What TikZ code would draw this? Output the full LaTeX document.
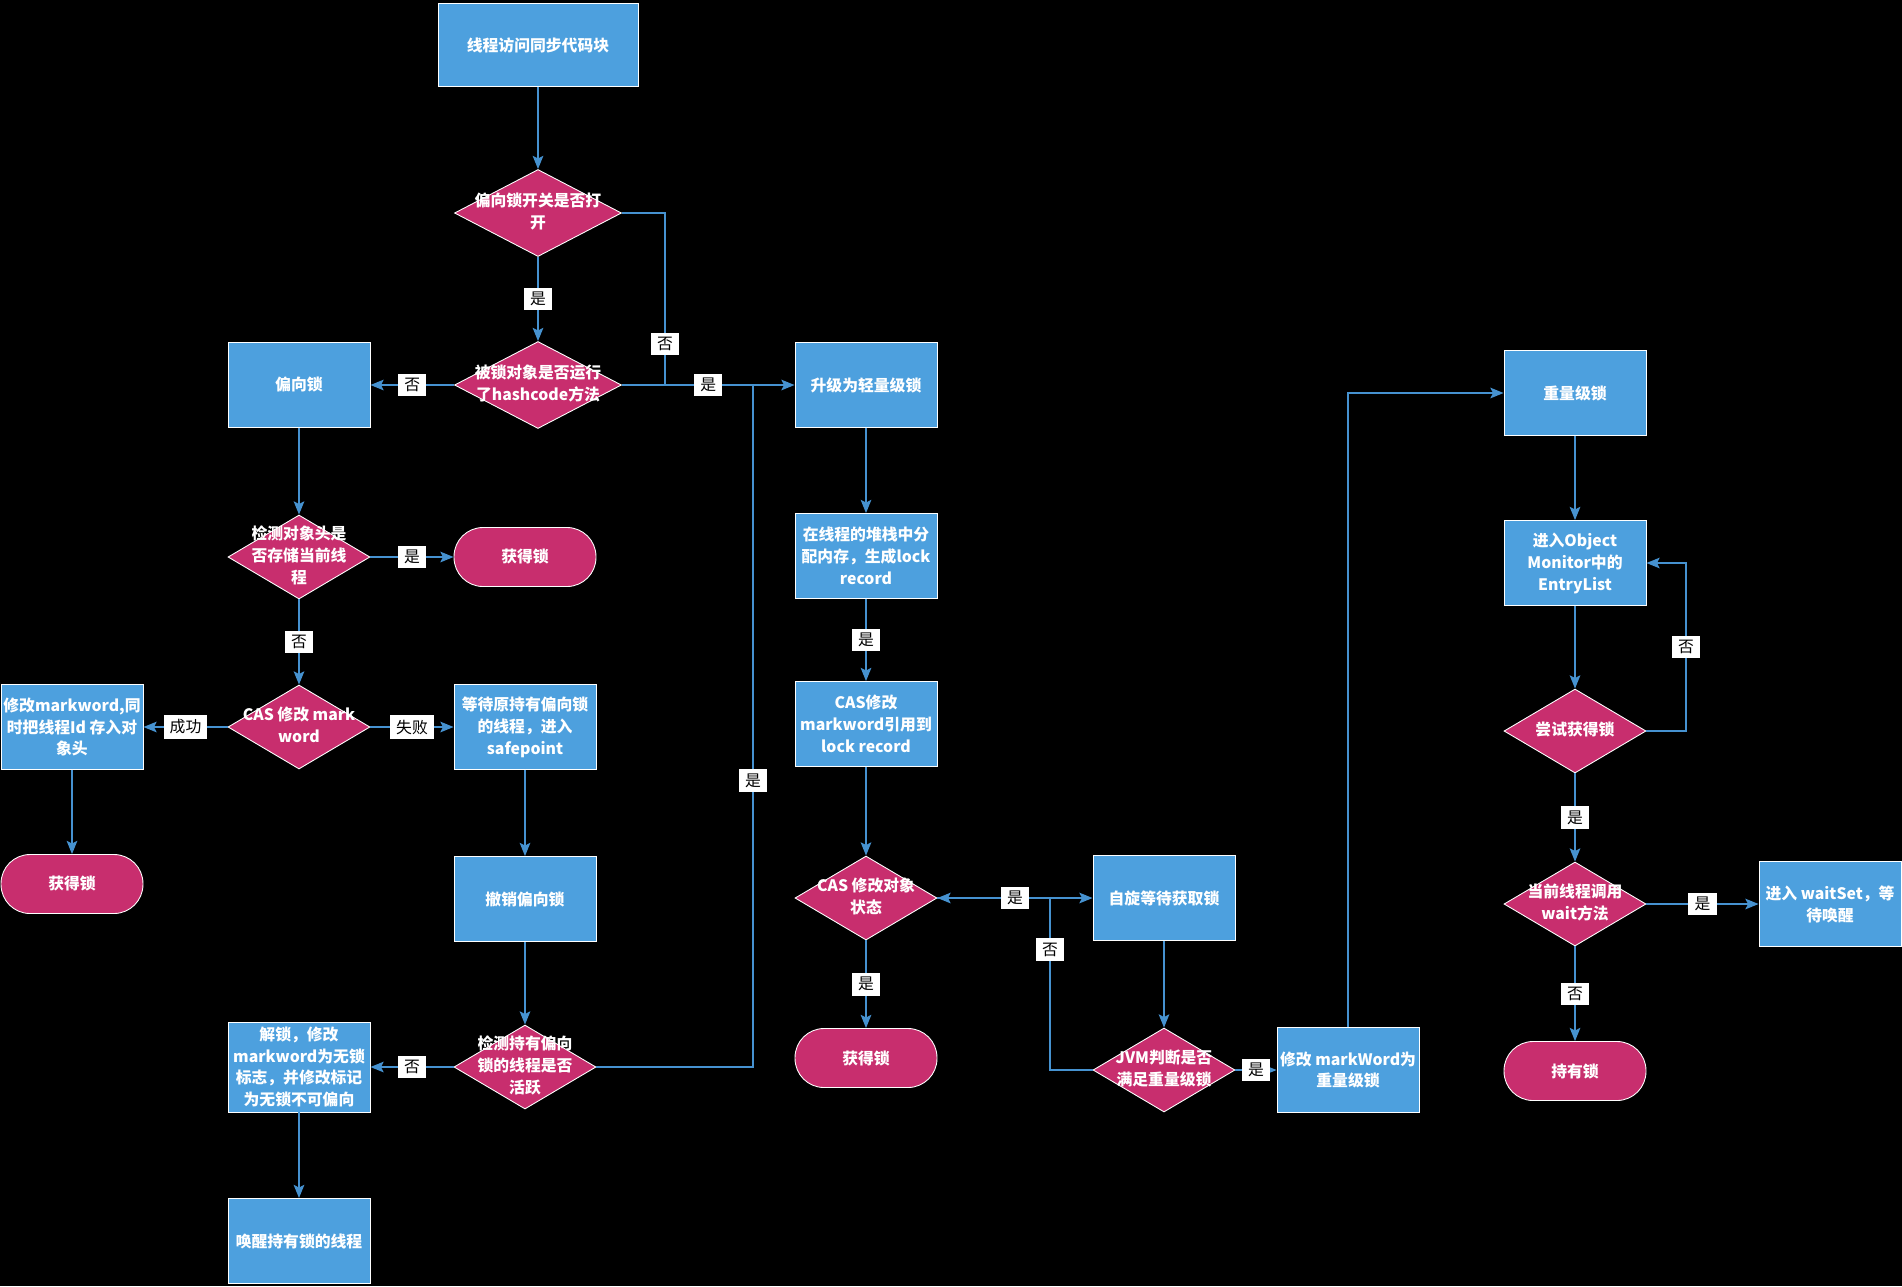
\documentclass[tikz,border=0pt]{standalone}
\usepackage{fontspec}
\newfontfamily\cjk{Noto Sans CJK SC}
\usepackage{tikz}
\usetikzlibrary{positioning,arrows.meta,shapes.geometric}
\definecolor{bleu}{RGB}{77,160,222}
\definecolor{rose}{RGB}{200,46,110}
\definecolor{fil}{RGB}{70,146,208}
\newcommand{\dtxt}[1]{\makebox[0pt]{\begin{tabular}{@{}c@{}}#1\end{tabular}}}

\begin{document}
\begin{tikzpicture}[x=0.02cm, y=-0.02cm,
    boite/.style={rectangle, fill=bleu, draw=white, line width=0.5pt, text=white,
        font=\cjk\bfseries\fontsize{9}{12.5}\selectfont, align=center,
        minimum width=2.84cm, minimum height=1.7cm, inner sep=1pt},
    losange/.style={diamond, fill=rose, draw=white, line width=0.5pt, text=white,
        font=\cjk\bfseries\fontsize{9}{12.5}\selectfont,
        minimum width=2.84cm, minimum height=1.68cm, inner sep=0pt},
    fin/.style={rectangle, rounded corners=0.58cm, fill=rose, draw=white, line width=0.5pt,
        text=white, font=\cjk\bfseries\fontsize{9}{12.5}\selectfont,
        minimum width=2.84cm, minimum height=1.18cm},
    lien/.style={draw=fil, line width=1.1pt, -{Stealth[length=7.5pt,width=6pt,inset=1.5pt]}},
    joint/.style={draw=fil, line width=1.1pt},
    etiq/.style={fill=white, text=black, font=\cjk\fontsize{9}{10}\selectfont,
        inner xsep=3.5pt, inner ysep=2.5pt}]

    % Fond
    \fill[black] (0,0) rectangle (1902,1286);

    % Entree
    \node[boite, minimum width=4cm, minimum height=1.66cm] (debut) at (538,45) {线程访问同步代码块};
    \node[losange, minimum width=3.34cm, minimum height=1.74cm] (interr) at (538,213) {\dtxt{偏向锁开关是否打\\开}};
    \node[losange, minimum width=3.34cm, minimum height=1.74cm] (hash) at (538,385) {\dtxt{被锁对象是否运行\\了hashcode方法}};

    % Verrou biaise
    \node[boite] (biais) at (299,385) {偏向锁};
    \node[losange] (entete) at (299,557) {\dtxt{检测对象头是\\否存储当前线\\程}};
    \node[fin] (acq1) at (525,557) {获得锁};
    \node[losange] (cas1) at (299,727) {\dtxt{CAS 修改 mark\\word}};
    \node[boite] (ecrit) at (72,727) {修改markword,同\\时把线程Id 存入对\\象头};
    \node[boite] (attente) at (525,727) {等待原持有偏向锁\\的线程，进入\\safepoint};
    \node[fin] (acq2) at (72,884) {获得锁};
    \node[boite] (revoq) at (525,899) {撤销偏向锁};
    \node[losange] (actif) at (525,1067) {\dtxt{检测持有偏向\\锁的线程是否\\活跃}};
    \node[boite, minimum height=1.8cm] (deverr) at (299,1067) {解锁，修改\\markword为无锁\\标志，并修改标记\\为无锁不可偏向};
    \node[boite] (reveil) at (299,1241) {唤醒持有锁的线程};

    % Verrou leger
    \node[boite] (leger) at (866,385) {升级为轻量级锁};
    \node[boite] (pile) at (866,556) {在线程的堆栈中分\\配内存，生成lock\\record};
    \node[boite] (cas2) at (866,724) {CAS修改\\markword引用到\\lock record};
    \node[losange] (etat) at (866,898) {\dtxt{CAS 修改对象\\状态}};
    \node[fin] (acq3) at (866,1058) {获得锁};
    \node[boite] (spin) at (1164,898) {自旋等待获取锁};
    \node[losange] (jvm) at (1164,1070) {\dtxt{JVM判断是否\\满足重量级锁}};
    \node[boite] (mw) at (1348,1070) {修改 markWord为\\重量级锁};

    % Verrou lourd
    \node[boite] (lourd) at (1575,393) {重量级锁};
    \node[boite] (entry) at (1575,563) {进入Object\\Monitor中的\\EntryList};
    \node[losange] (essai) at (1575,731) {\dtxt{尝试获得锁}};
    \node[losange] (wait) at (1575,904) {\dtxt{当前线程调用\\wait方法}};
    \node[boite] (waitset) at (1830,904) {进入 waitSet，等\\待唤醒};
    \node[fin] (tenu) at (1575,1071) {持有锁};

    % Liens du haut
    \coordinate (j1) at (665,385);
    \coordinate (j2) at (753,385);
    \draw[lien] (debut) -- (interr);
    \draw[lien] (interr) -- node[etiq] {是} (hash);
    \draw[joint] (interr.east) -| node[etiq, pos=0.88] {否} (j1);
    \draw[joint] (actif.east) -| node[etiq, pos=0.71] {是} (j2);
    \draw[lien] (hash) -- node[etiq] {是} (leger);
    \draw[lien] (hash) -- node[etiq] {否} (biais);

    % Liens biaise
    \draw[lien] (biais) -- (entete);
    \draw[lien] (entete) -- node[etiq] {是} (acq1);
    \draw[lien] (entete) -- node[etiq] {否} (cas1);
    \draw[lien] (cas1) -- node[etiq] {成功} (ecrit);
    \draw[lien] (cas1) -- node[etiq] {失败} (attente);
    \draw[lien] (ecrit) -- (acq2);
    \draw[lien] (attente) -- (revoq);
    \draw[lien] (revoq) -- (actif);
    \draw[lien] (actif) -- node[etiq] {否} (deverr);
    \draw[lien] (deverr) -- (reveil);

    % Liens leger
    \coordinate (j3) at (1050,898);
    \draw[lien] (leger) -- (pile);
    \draw[lien] (pile) -- node[etiq] {是} (cas2);
    \draw[lien] (cas2) -- (etat);
    \draw[lien] (etat) -- node[etiq] {是} (acq3);
    \draw[lien] (jvm.west) -| node[etiq, pos=0.85] {否} (j3) -- (etat.east);
    \draw[lien] (etat) -- node[etiq] {是} (spin);
    \draw[lien] (spin) -- (jvm);
    \draw[lien] (jvm) -- node[etiq] {是} (mw);
    \draw[lien] (mw.north) |- (lourd.west);

    % Liens lourd
    \coordinate (j4) at (1686,563);
    \draw[lien] (lourd) -- (entry);
    \draw[lien] (entry) -- (essai);
    \draw[lien] (essai.east) -| node[etiq, pos=0.75] {否} (j4) -- (entry.east);
    \draw[lien] (essai) -- node[etiq] {是} (wait);
    \draw[lien] (wait) -- node[etiq] {是} (waitset);
    \draw[lien] (wait) -- node[etiq] {否} (tenu);
\end{tikzpicture}
\end{document}
